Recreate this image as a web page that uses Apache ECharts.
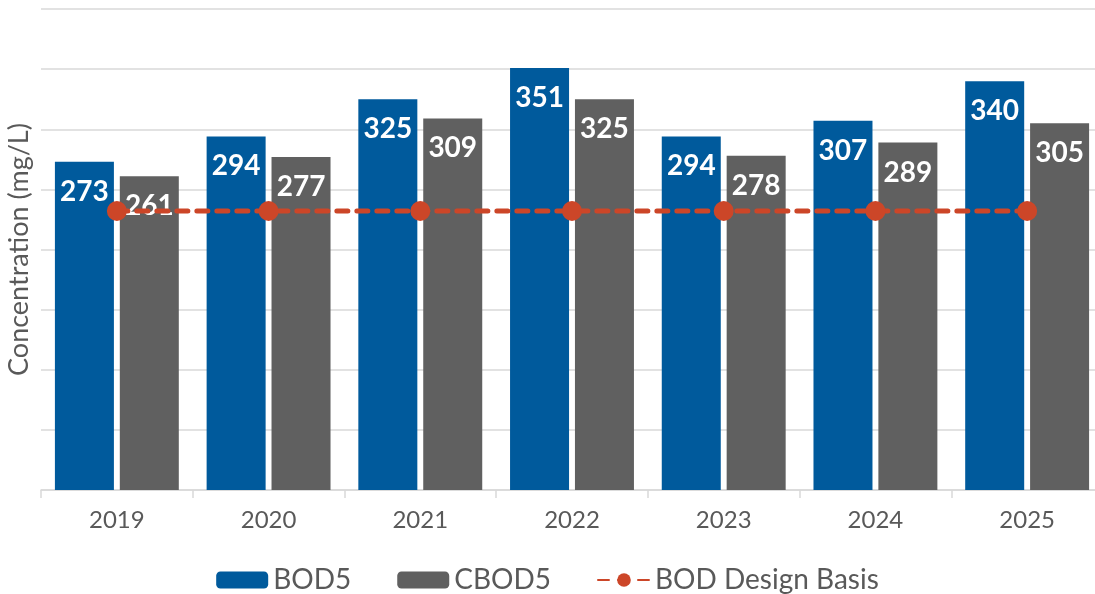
<!DOCTYPE html>
<html>
<head>
<meta charset="utf-8">
<script src="https://cdn.jsdelivr.net/npm/echarts@6/dist/echarts.min.js"></script>
<style>
html,body{margin:0;padding:0;background:#fff;}
#chart{width:1095px;height:594px;}
</style>
</head>
<body>
<div id="chart"></div>
<script>
const categories = ['2019', '2020', '2021', '2022', '2023', '2024', '2025'];
const bod5 = [273, 294, 325, 351, 294, 307, 340];
const cbod5 = [261, 277, 309, 325, 278, 289, 305];
const designBasis = [232, 232, 232, 232, 232, 232, 232];
const yAxisName = 'Concentration (mg/L)';

const chart = echarts.init(document.getElementById('chart'));
const labelStyle = {
  show: true,
  position: 'insideTop',
  distance: 16,
  color: '#ffffff',
  fontFamily: 'Lato',
  fontWeight: 'bold',
  fontSize: 28
};
chart.setOption({
  animation: false,
  textStyle: { fontFamily: 'Lato' },
  grid: { left: 41, width: 1062, top: 9, bottom: 104, containLabel: false, outerBoundsMode: 'none' },
  legend: {
    left: 'center',
    top: 561,
    itemWidth: 52,
    itemHeight: 17,
    itemGap: 46,
    textStyle: { fontSize: 28, color: '#595959', fontFamily: 'Lato' },
    data: ['BOD5', 'CBOD5', 'BOD Design Basis']
  },
  xAxis: {
    type: 'category',
    data: categories,
    axisLine: { lineStyle: { color: '#d9d9d9', width: 1.5 } },
    axisTick: { show: true, length: 8, lineStyle: { color: '#d9d9d9', width: 1.5 } },
    axisLabel: { color: '#595959', fontSize: 24, margin: 18, fontFamily: 'Lato' }
  },
  yAxis: {
    type: 'value',
    min: 0,
    max: 400,
    interval: 50,
    name: yAxisName,
    nameLocation: 'middle',
    nameGap: 8,
    nameTextStyle: { color: '#595959', fontSize: 27, fontFamily: 'Lato' },
    axisLabel: { show: false },
    axisLine: { show: false },
    axisTick: { show: false },
    splitLine: { lineStyle: { color: '#d9d9d9', width: 1.5 } }
  },
  series: [
    {
      name: 'BOD5',
      type: 'bar',
      data: bod5,
      barWidth: 59,
      barGap: '10%',
      itemStyle: { color: '#005A9C' },
      label: labelStyle,
      z: 2
    },
    {
      name: 'CBOD5',
      type: 'bar',
      data: cbod5,
      barWidth: 59,
      barGap: '10%',
      itemStyle: { color: '#606060' },
      label: labelStyle,
      z: 2
    },
    {
      name: 'BOD Design Basis',
      type: 'line',
      data: designBasis,
      symbol: 'circle',
      symbolSize: 20,
      itemStyle: { color: '#CC4628' },
      lineStyle: { color: '#CC4628', width: 5, type: [11, 9], cap: 'round' },
      z: 2
    }
  ]
});
</script>
</body>
</html>
